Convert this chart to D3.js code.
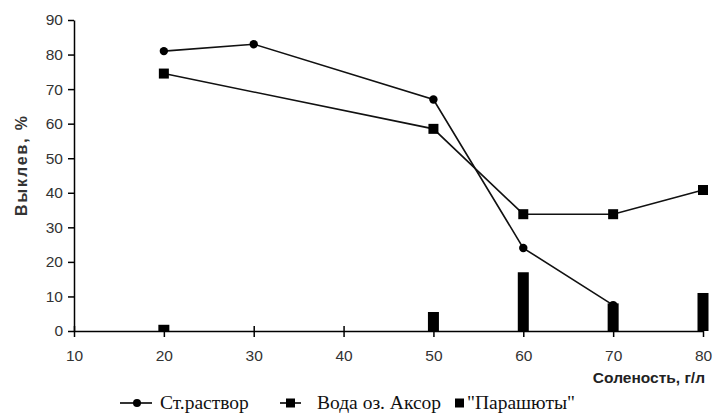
<!DOCTYPE html>
<html><head><meta charset="utf-8">
<script src="https://cdn.jsdelivr.net/npm/d3@7"></script>
<style>body{margin:0;background:#fff;}svg{display:block;}</style>
</head><body>
<svg id="c" width="713" height="415"></svg>
<script>
const xTicks = [10,20,30,40,50,60,70,80];
const yTicks = [0,10,20,30,40,50,60,70,80,90];
const strX = [20,30,50,60,70];
const strY = [81,83,67,24,7.5];
const aksX = [20,50,60,70,80];
const aksY = [74.5,58.5,33.8,33.8,40.8];
const parX = [20,50,60,70,80];
const parY = [1.8,5.5,17,8,11];
const seriesNames = ["Ст.раствор","Вода оз. Аксор","\"Парашюты\""];

const svg = d3.select("#c");
const x = d3.scaleLinear().domain([10,80]).range([74,703]);
const y = d3.scaleLinear().domain([0,90]).range([331,20]);
const sans = "Liberation Sans, Arial, sans-serif";

// bars
svg.append("g").selectAll("rect").data(parX.map((d,i)=>({x:d,y:parY[i]})))
 .enter().append("rect")
 .attr("x",d=>x(d.x)-5.5).attr("width",11)
 .attr("y",d=>y(d.y)).attr("height",d=>y(0)-y(d.y)).attr("fill","#000");

// axes
const yAxis = d3.axisLeft(y).tickValues(yTicks).tickSize(6).tickSizeOuter(0);
const gy = svg.append("g").attr("transform","translate(74,0)").call(yAxis);
const xAxis = d3.axisBottom(x).tickValues(xTicks).tickSize(6).tickSizeOuter(0);
const gx = svg.append("g").attr("transform","translate(0,331)").call(xAxis);
[gx,gy].forEach(g=>{
  g.selectAll("path,line").attr("stroke","#000").attr("stroke-width",1.5);
  g.selectAll("text").attr("font-family",sans).attr("font-size",15.5).attr("fill","#333");
});
gy.selectAll(".tick line").attr("x2",-6);
gy.selectAll("text").attr("x",-11);
gx.selectAll(".tick line").attr("y1",-5).attr("y2",6);
gx.selectAll("text").attr("y",19);

// lines
const line = d3.line().x(d=>x(d[0])).y(d=>y(d[1]));
const strData = strX.map((d,i)=>[d,strY[i]]);
const aksData = aksX.map((d,i)=>[d,aksY[i]]);
svg.append("path").attr("d",line(aksData)).attr("fill","none").attr("stroke","#111").attr("stroke-width",1.6);
svg.append("path").attr("d",line(strData)).attr("fill","none").attr("stroke","#111").attr("stroke-width",1.6);
svg.append("g").selectAll("circle").data(strData).enter().append("circle")
 .attr("cx",d=>x(d[0])).attr("cy",d=>y(d[1])).attr("r",4.2).attr("fill","#000");
svg.append("g").selectAll("rect").data(aksData).enter().append("rect")
 .attr("x",d=>x(d[0])-5).attr("y",d=>y(d[1])-5).attr("width",10).attr("height",10).attr("fill","#000");

// axis titles
svg.append("text").attr("x",705).attr("y",383).attr("text-anchor","end")
 .attr("font-family",sans).attr("font-size",15.5).attr("font-weight","bold").attr("fill","#222")
 .text("Соленость, г/л");
svg.append("text").attr("transform","translate(27,166) rotate(-90)").attr("text-anchor","middle")
 .attr("font-family",sans).attr("font-size",16).attr("font-weight","bold").attr("fill","#333")
 .attr("textLength",100).attr("lengthAdjust","spacing")
 .text("Выклев, %");

// legend
const lg = svg.append("g").attr("font-family","Liberation Serif, Times New Roman, serif").attr("font-size",19.5).attr("fill","#111");
const ly = 403;
lg.append("line").attr("x1",120).attr("x2",152).attr("y1",ly).attr("y2",ly).attr("stroke","#000").attr("stroke-width",1.6);
lg.append("circle").attr("cx",137).attr("cy",ly).attr("r",4).attr("fill","#000");
lg.append("text").attr("x",160).attr("y",ly+6).text(seriesNames[0]);
lg.append("line").attr("x1",280).attr("x2",301).attr("y1",ly).attr("y2",ly).attr("stroke","#000").attr("stroke-width",1.6);
lg.append("rect").attr("x",286).attr("y",ly-4.5).attr("width",9).attr("height",9).attr("fill","#000");
lg.append("text").attr("x",317).attr("y",ly+6).text(seriesNames[1]);
lg.append("rect").attr("x",455).attr("y",ly-4.5).attr("width",9).attr("height",9).attr("fill","#000");
lg.append("text").attr("x",467).attr("y",ly+6).text(seriesNames[2]);
</script>
</body></html>
